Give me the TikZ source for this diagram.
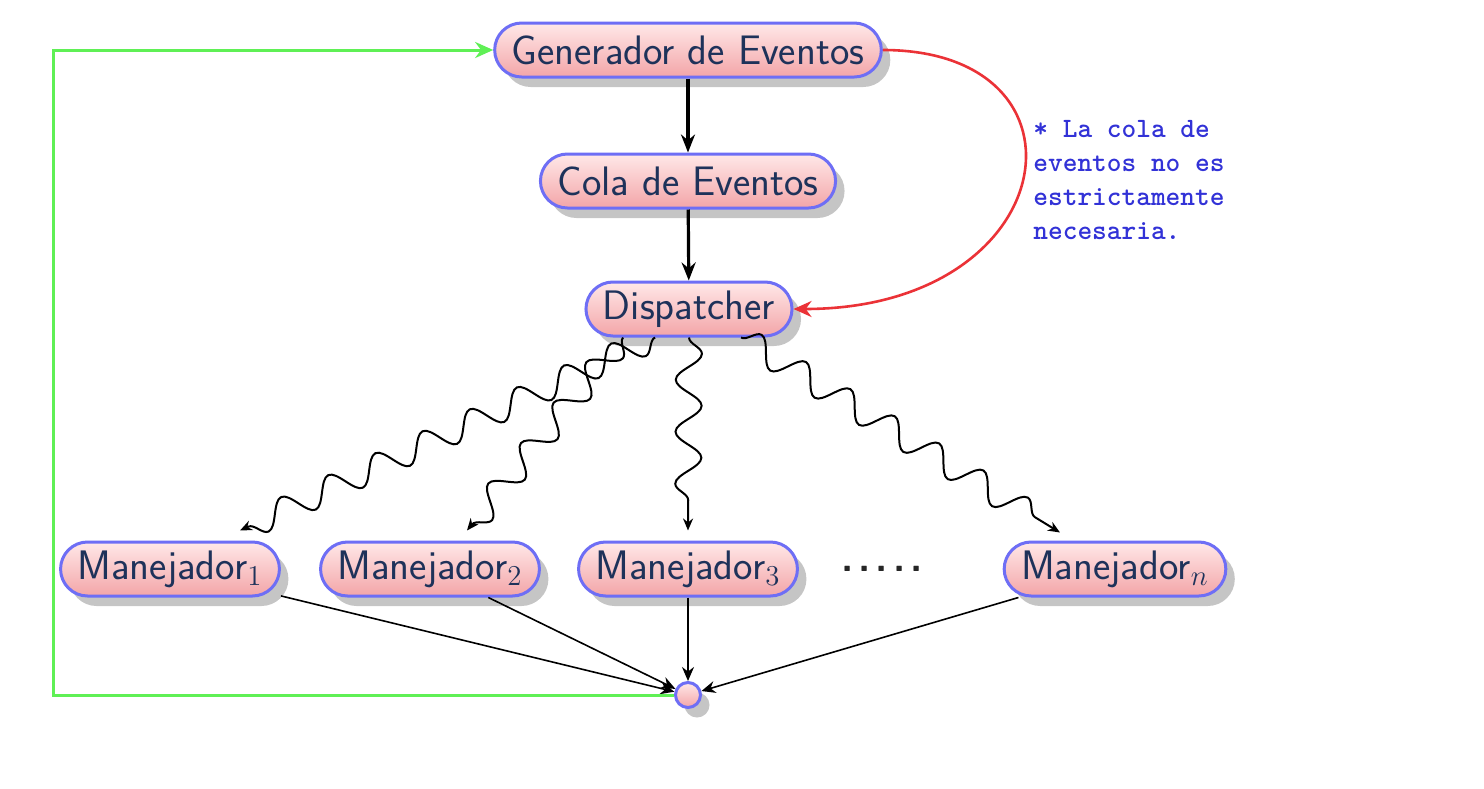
\documentclass[tikz,border=0pt]{standalone}
\usepackage{fontspec}
\usetikzlibrary{arrows.meta,shadows,decorations.pathmorphing}
\definecolor{bordc}{RGB}{110,110,245}
\definecolor{txtc}{RGB}{30,50,90}
\definecolor{pinkbot}{RGB}{243,165,168}
\definecolor{pinktop}{RGB}{255,232,232}
\definecolor{grn}{RGB}{95,240,85}
\definecolor{rd}{RGB}{235,50,55}
\definecolor{notec}{RGB}{50,50,215}
\begin{document}
\begin{tikzpicture}[x=0.5pt,y=-0.5pt,
  box/.style={draw=bordc, line width=1.5pt, rounded corners=13.5pt,
    top color=pinktop, bottom color=pinkbot, minimum height=27pt,
    inner xsep=8.5pt, inner ysep=0pt, text=txtc,
    font=\sffamily\fontsize{20.6}{24}\selectfont,
    drop shadow={shadow xshift=4.5pt, shadow yshift=-5pt, opacity=0.45}},
  dot/.style={draw=bordc, line width=1.5pt, circle, inner sep=0pt,
    minimum size=12.5pt, top color=pinktop, bottom color=pinkbot,
    drop shadow={shadow xshift=4.5pt, shadow yshift=-5pt, opacity=0.45}},
  thick arrow/.style={-{Stealth[length=9pt,width=7pt]}, line width=1.6pt},
  thin arrow/.style={-{Stealth[length=7pt,width=6pt]}, line width=0.8pt},
  wavy/.style={-{Stealth[length=6pt,width=5pt]}, line width=1pt, decorate,
    decoration={snake, amplitude=6.5pt, segment length=26pt, post length=3pt}},
]
\useasboundingbox[fill=white] (0,0) rectangle (1484,788);

\node[box] (gen)  at (688,50)  {Generador de Eventos};
\node[box] (cola) at (688,181) {Cola de Eventos};
\node[box] (disp) at (689,309) {Dispatcher};
\node[box] (m1) at (170,569) {Manejador$_1$};
\node[box] (m2) at (430,569) {Manejador$_2$};
\node[box] (m3) at (688,569) {Manejador$_3$};
\node[text=black!85, font=\sffamily\bfseries\fontsize{20}{24}\selectfont, inner sep=0pt] (dots) at (882,569) {.\kern2.6pt.\kern2.6pt.\kern2.6pt.\kern2.6pt.};
\node[box] (mn) at (1115,569) {Manejador$_n$};
\node[dot] (c) at (688,695) {};

\node[anchor=north west, align=left, inner sep=0pt, text=notec,
  font=\ttfamily\bfseries\fontsize{14}{17}\selectfont] (note) at (1033,120)
  {* La cola de\\eventos no es\\estrictamente\\necesaria.};

\coordinate (gl) at (53,0);

\draw[thick arrow] (gen) -- (cola);
\draw[thick arrow] (cola) -- (disp);

\draw[wavy] ([xshift=-17pt]disp.south) -- ([xshift=35pt,yshift=5pt]m1.north);
\draw[wavy] ([xshift=-33pt]disp.south) -- ([xshift=18.5pt,yshift=5pt]m2.north);
\draw[wavy] (disp.south) -- ([yshift=5pt]m3.north);
\draw[wavy] ([xshift=26pt]disp.south) -- ([xshift=-27.5pt,yshift=4pt]mn.north);

\draw[thin arrow] (m1) -- (c);
\draw[thin arrow] (m2) -- (c);
\draw[thin arrow] (m3) -- (c);
\draw[thin arrow] (mn) -- (c);

\draw[grn, line width=1.5pt, -{Stealth[length=9pt,width=8pt]}]
  (c.west) -- (c.west -| gl) |- (gen.west);
\draw[rd, line width=1.3pt, -{Stealth[length=9pt,width=8pt]}]
  (gen.east) .. controls +(220,0) and +(270,0) .. (disp.east);
\end{tikzpicture}
\end{document}
